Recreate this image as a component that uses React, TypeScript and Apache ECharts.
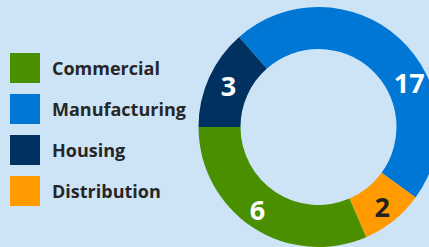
import React, { useEffect, useRef } from "react";
import * as echarts from "echarts";

// Slice order (clockwise from 9 o'clock)
const categories = ["Housing", "Manufacturing", "Distribution", "Commercial"];
// Count shown on each slice
const countLabels = [3, 17, 2, 6];
// Share of the ring each slice occupies (percent)
const ringShares = [13.5, 46.5, 8.5, 31.5];
const legendOrder = ["Commercial", "Manufacturing", "Housing", "Distribution"];

const colors: Record<string, string> = {
  Housing: "#003160",
  Manufacturing: "#0077d5",
  Distribution: "#ff9b00",
  Commercial: "#4a8f00",
};
const labelColors: Record<string, string> = {
  Housing: "#ffffff",
  Manufacturing: "#ffffff",
  Distribution: "#222222",
  Commercial: "#ffffff",
};

export default function App() {
  const ref = useRef<HTMLDivElement>(null);
  useEffect(() => {
    if (!ref.current) return;
    const chart = echarts.init(ref.current, undefined, { renderer: "svg" });
    chart.setOption({
      animation: false,
      backgroundColor: "#cde3f6",
      legend: {
        orient: "vertical",
        left: 10,
        top: 53,
        padding: 0,
        itemWidth: 30,
        itemHeight: 30,
        itemGap: 11,
        icon: "rect",
        data: legendOrder,
        textStyle: {
          fontFamily: "Open Sans",
          fontWeight: "bold",
          fontSize: 18,
          color: "#262626",
          padding: [0, 0, 0, 7],
        },
      },
      series: [
        {
          type: "pie",
          center: [318.5, 127],
          radius: [78, 120],
          startAngle: 180,
          clockwise: true,
          avoidLabelOverlap: false,
          emphasis: { disabled: true },
          label: {
            show: true,
            position: "inside",
            fontFamily: "Open Sans",
            fontWeight: "bold",
            fontSize: 27,
            formatter: (p: any) => String(countLabels[p.dataIndex]),
          },
          labelLayout: (p: any) =>
            categories[p.dataIndex] === "Manufacturing"
              ? { dx: 22, dy: 31 }
              : categories[p.dataIndex] === "Commercial"
              ? { dx: -5, dy: -3 }
              : categories[p.dataIndex] === "Housing"
              ? { dx: 3, dy: 0 }
              : {},
          labelLine: { show: false },
          data: categories.map((c, i) => ({
            name: c,
            value: ringShares[i],
            itemStyle: { color: colors[c] },
            label: { color: labelColors[c] },
          })),
        },
      ],
    });
    return () => chart.dispose();
  }, []);
  return (
    <div
      ref={ref}
      style={{ position: "fixed", left: 0, top: 0, width: 429, height: 247 }}
    />
  );
}
